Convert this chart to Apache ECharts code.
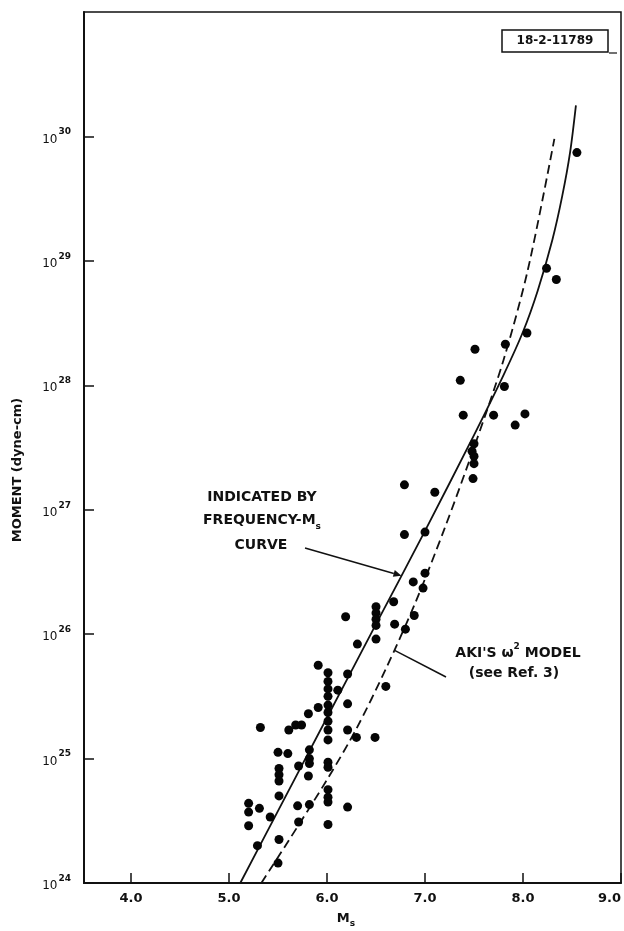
<!DOCTYPE html>
<html>
<head>
<meta charset="utf-8">
<script src="https://cdn.jsdelivr.net/npm/echarts@6/dist/echarts.min.js"></script>
<style>html,body{margin:0;padding:0;background:#fff;}#chart{width:624px;height:931px;}</style>
</head>
<body>
<div id="chart"></div>
<script>
// Observed events: surface-wave magnitude Ms and log10 of seismic moment (dyne-cm)
const msValues = [
  8.55, 8.24, 8.34, 8.04, 7.82, 7.51, 7.36, 7.81, 7.39, 7.70, 8.02, 7.92,
  7.50, 7.48, 7.50, 7.50, 7.49, 6.79, 7.10, 6.79, 7.00, 7.00, 6.88, 6.98,
  6.68, 6.89, 6.69, 6.80, 6.19,
  6.50, 6.50, 6.50, 6.50, 6.50,
  6.31, 5.91, 6.21,
  6.01, 6.01, 6.01, 6.01, 6.01, 6.01, 6.01, 6.01, 6.01,
  6.11, 6.60, 6.21, 5.91, 5.81, 5.74, 5.68, 5.32, 5.61, 6.21, 6.30, 6.49,
  5.50, 5.60, 5.82, 5.82, 5.71, 5.82, 6.01, 6.01, 5.51, 5.51, 5.51, 5.81,
  5.51, 6.01, 6.01, 6.01, 5.20, 5.31, 5.20, 5.70, 5.82, 5.42, 6.21, 5.71,
  5.20, 6.01, 5.51, 5.29, 5.50
];
const logMoments = [
  29.87, 28.94, 28.85, 28.42, 28.33, 28.29, 28.04, 27.99, 27.76, 27.76, 27.77, 27.68,
  27.53, 27.47, 27.43, 27.37, 27.25, 27.20, 27.14, 26.80, 26.82, 26.49, 26.42, 26.37,
  26.26, 26.15, 26.08, 26.04, 26.14,
  26.22, 26.17, 26.12, 26.07, 25.96,
  25.92, 25.75, 25.68,
  25.69, 25.62, 25.56, 25.50, 25.43, 25.37, 25.30, 25.23, 25.15,
  25.55, 25.58, 25.44, 25.41, 25.36, 25.27, 25.27, 25.25, 25.23, 25.23, 25.17, 25.17,
  25.05, 25.04, 25.07, 25.00, 24.94, 24.96, 24.97, 24.93, 24.92, 24.87, 24.82, 24.86,
  24.70, 24.75, 24.69, 24.65, 24.64, 24.60, 24.57, 24.62, 24.63, 24.53, 24.61, 24.49,
  24.46, 24.47, 24.35, 24.30, 24.16
];
// Curve "indicated by frequency-Ms" (solid)
const solidMs  = [5.115, 5.5, 6.0, 6.5, 7.0, 7.5, 7.8, 8.0, 8.15, 8.3, 8.4, 8.48, 8.54];
const solidLog = [24.0, 24.58, 25.33, 26.08, 26.83, 27.60, 28.08, 28.43, 28.76, 29.17, 29.52, 29.87, 30.25];
// Aki's omega-squared model (dashed)
const dashedMs  = [5.33, 5.6, 6.0, 6.3, 6.6, 6.9, 7.2, 7.5, 7.8, 8.05, 8.32];
const dashedLog = [24.0, 24.33, 24.83, 25.24, 25.72, 26.25, 26.85, 27.50, 28.20, 28.93, 29.98];

const xTickValues = [4, 5, 6, 7, 8, 9];
const xTickLabels = ['4.0', '5.0', '6.0', '7.0', '8.0', '9.0'];
const yTickExponents = [24, 25, 26, 27, 28, 29, 30, 31];

const FONT = 'DejaVu Sans';
const pts = msValues.map((m, i) => [m, Math.pow(10, logMoments[i])]);
const solid = solidMs.map((m, i) => [m, Math.pow(10, solidLog[i])]);
const dashed = dashedMs.map((m, i) => [m, Math.pow(10, dashedLog[i])]);
const yTickValues = yTickExponents.map(e => Math.pow(10, e));

const chart = echarts.init(document.getElementById('chart'), null, {renderer: 'canvas'});
chart.setOption({
  animation: false,
  backgroundColor: '#fff',
  grid: {left: 84, right: 2, top: 12, bottom: 48, show: true, borderColor: '#111', borderWidth: 1.5},
  xAxis: {
    type: 'value', min: 3.52, max: 9.0,
    axisLine: {show: true, lineStyle: {color: '#111', width: 2}},
    axisTick: {show: true, inside: true, length: 10, customValues: xTickValues, lineStyle: {color: '#111', width: 1.5}},
    axisLabel: {
      customValues: xTickValues, margin: 9, color: '#111', fontFamily: FONT, fontWeight: 'bold', fontSize: 13,
      alignMaxLabel: 'right',
      formatter: v => xTickLabels[xTickValues.indexOf(Math.round(v))]
    },
    splitLine: {show: false}
  },
  yAxis: {
    type: 'log', logBase: 10, min: 1e24, max: 1e31,
    axisLine: {show: true, lineStyle: {color: '#111', width: 2}},
    axisTick: {show: true, inside: true, length: 10, customValues: yTickValues, lineStyle: {color: '#111', width: 1.5}},
    minorTick: {show: false},
    axisLabel: {
      customValues: yTickValues, margin: 13, color: '#111', fontFamily: FONT,
      formatter: v => '{b|10}{s|' + Math.round(Math.log10(v)) + '}',
      rich: {
        b: {fontSize: 12, fontFamily: FONT, color: '#111', lineHeight: 18, verticalAlign: 'bottom'},
        s: {fontSize: 9, fontFamily: FONT, fontWeight: 'bold', color: '#111', lineHeight: 18, verticalAlign: 'top', padding: [0, 0, 0, 1]}
      }
    },
    splitLine: {show: false}
  },
  series: [
    {type: 'line', data: solid, smooth: 0.3, showSymbol: false, symbol: 'none',
     lineStyle: {color: '#111', width: 1.8}, z: 3},
    {type: 'line', data: dashed, smooth: 0.3, showSymbol: false, symbol: 'none',
     lineStyle: {color: '#111', width: 1.8, type: [9, 5]}, z: 3},
    {type: 'scatter', data: pts, symbol: 'circle', symbolSize: 9,
     itemStyle: {color: '#050505', opacity: 1}, z: 4}
  ]
});

// annotations anchored to the curves
const tip1 = chart.convertToPixel({gridIndex: 0}, [6.76, Math.pow(10, 26.47)]);
const start1 = [305, 548];
const ang = Math.atan2(tip1[1] - start1[1], tip1[0] - start1[0]);
const ah = 8, aw = 3.5;
const back = [tip1[0] - ah * Math.cos(ang), tip1[1] - ah * Math.sin(ang)];
const arrowHead = [
  tip1,
  [back[0] + aw * Math.sin(ang), back[1] - aw * Math.cos(ang)],
  [back[0] - aw * Math.sin(ang), back[1] + aw * Math.cos(ang)]
];
const tip2 = chart.convertToPixel({gridIndex: 0}, [6.69, Math.pow(10, 25.87)]);

const F14 = 'bold 14px "' + FONT + '"';
const F9 = 'bold 9px "' + FONT + '"';
const txt = (x, y, t, extra) => ({
  type: 'text', x: x, y: y,
  style: Object.assign({text: t, fill: '#111', font: F14, align: 'center', verticalAlign: 'middle'}, extra || {})
});

chart.setOption({
  graphic: [
    txt(262, 497, 'INDICATED BY'),
    {type: 'text', x: 262, y: 522, style: {
      text: '{a|FREQUENCY-M}{s|s}', align: 'center', verticalAlign: 'middle',
      rich: {a: {font: F14, fill: '#111', lineHeight: 18, verticalAlign: 'top'},
             s: {font: F9, fill: '#111', lineHeight: 18, verticalAlign: 'bottom'}}}},
    txt(261, 545, 'CURVE'),
    {type: 'line', shape: {x1: start1[0], y1: start1[1], x2: back[0], y2: back[1]}, style: {stroke: '#111', lineWidth: 1.5}},
    {type: 'polygon', shape: {points: arrowHead}, style: {fill: '#111'}},
    {type: 'line', shape: {x1: tip2[0], y1: tip2[1], x2: 446, y2: 677}, style: {stroke: '#111', lineWidth: 1.5}},
    {type: 'text', x: 518, y: 651, style: {
      text: "{a|AKI'S ω}{s|2}{a| MODEL}", align: 'center', verticalAlign: 'middle',
      rich: {a: {font: F14, fill: '#111', lineHeight: 18, verticalAlign: 'bottom'},
             s: {font: F9, fill: '#111', lineHeight: 18, verticalAlign: 'top'}}}},
    txt(514, 673, '(see Ref. 3)'),
    {type: 'rect', shape: {x: 502, y: 30, width: 106, height: 22}, style: {fill: '#fff', stroke: '#111', lineWidth: 1.5}},
    txt(555, 41, '18-2-11789', {font: 'bold 12px "' + FONT + '"'}),
    {type: 'line', shape: {x1: 609, y1: 53, x2: 617, y2: 53}, style: {stroke: '#111', lineWidth: 1.2}},
    {type: 'text', x: 18, y: 470, rotation: Math.PI / 2, style: {
      text: 'MOMENT (dyne-cm)', fill: '#111', font: 'bold 13px "' + FONT + '"', align: 'center', verticalAlign: 'middle'}},
    {type: 'text', x: 346, y: 920, style: {
      text: '{a|M}{s|s}', align: 'center', verticalAlign: 'middle',
      rich: {a: {font: 'bold 13px "' + FONT + '"', fill: '#111', lineHeight: 16, verticalAlign: 'top'},
             s: {font: F9, fill: '#111', lineHeight: 16, verticalAlign: 'bottom'}}}}
  ]
});
</script>
</body>
</html>
